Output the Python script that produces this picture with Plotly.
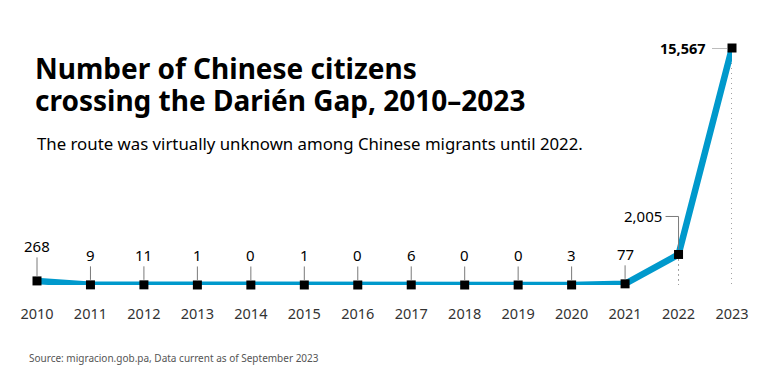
import plotly.graph_objects as go

years = [2010, 2011, 2012, 2013, 2014, 2015, 2016, 2017, 2018, 2019, 2020, 2021, 2022, 2023]
crossings = [268, 9, 11, 1, 0, 1, 0, 6, 0, 0, 3, 77, 2005, 15567]
tick_labels = [str(y) for y in years]

title_lines = ["Number of Chinese citizens", "crossing the Darién Gap, 2010–2023"]
subtitle_text = "The route was virtually unknown among Chinese migrants until 2022."
source_text = "Source: migracion.gob.pa, Data current as of September 2023"

FONT = "Noto Sans"
LINE_COLOR = "#0099cc"
LEADER = "#7a7a7a"

# page offset (body margin) compensation
OFF = 8
L, T = 37 - OFF, 48 - OFF
PW, PH = 695, 237


def px_x(px):
    return (px - 37) / PW


def px_y(py):
    return 1 - (py - 48) / PH


fig = go.Figure()
fig.add_trace(go.Scatter(
    x=years, y=crossings, mode="lines+markers",
    line=dict(color=LINE_COLOR, width=6.5),
    marker=dict(symbol="square", size=9, color="black"),
    cliponaxis=False, hoverinfo="skip",
))

annotations = []
shapes = []
for i, (yr, v) in enumerate(zip(years, crossings)):
    label = f"{v:,}"
    if yr <= 2021:
        ay = -35 if i == 0 else -30
        annotations.append(dict(
            x=yr, y=v, xref="x", yref="y", text=label, showarrow=True,
            arrowhead=0, arrowwidth=1, arrowcolor=LEADER, ax=0, ay=ay,
            standoff=5, font=dict(family=FONT, size=15, color="black"),
        ))
    elif yr == 2022:
        annotations.append(dict(
            x=yr, y=v, xref="x", yref="y", text=label, showarrow=False,
            xanchor="right", yanchor="middle", xshift=-15, yshift=38,
            font=dict(family=FONT, size=15, color="black"),
        ))
        shapes.append(dict(type="line", xref="x", yref="y", x0=yr, x1=yr,
                           ysizemode="pixel", yanchor=v, y0=5, y1=38,
                           line=dict(color=LEADER, width=1)))
        shapes.append(dict(type="line", xref="x", yref="y",
                           xsizemode="pixel", xanchor=yr, x0=-13, x1=0,
                           ysizemode="pixel", yanchor=v, y0=38, y1=38,
                           line=dict(color=LEADER, width=1)))
    else:
        annotations.append(dict(
            x=yr, y=v, xref="x", yref="y", text=f"<b>{label}</b>", showarrow=False,
            xanchor="right", yanchor="middle", xshift=-24,
            font=dict(family=FONT, size=14.5, color="black"),
        ))
        shapes.append(dict(type="line", xref="x", yref="y",
                           xsizemode="pixel", xanchor=yr, x0=-20, x1=-5,
                           y0=v, y1=v, line=dict(color=LEADER, width=1)))
    if yr >= 2022:
        shapes.append(dict(type="line", xref="x", yref="y", x0=yr, x1=yr,
                           y0=v, y1=-950,
                           line=dict(color="#444", width=1, dash="1px,4px"),
                           layer="below"))

for text, cy in zip(title_lines, [68.5, 99.5]):
    annotations.append(dict(
        xref="paper", yref="paper", x=px_x(33), y=px_y(cy),
        xanchor="left", yanchor="middle", text=f"<b>{text}</b>", showarrow=False,
        font=dict(family=FONT, size=28, color="black"),
    ))
annotations.append(dict(
    xref="paper", yref="paper", x=px_x(35), y=px_y(143),
    xanchor="left", yanchor="middle", text=subtitle_text, showarrow=False,
    font=dict(family=FONT, size=16.8, color="black"),
))
annotations.append(dict(
    xref="paper", yref="paper", x=px_x(27), y=px_y(358),
    xanchor="left", yanchor="middle", text=source_text, showarrow=False,
    font=dict(family=FONT, size=10, color="#555"),
))

fig.update_layout(
    width=768, height=381,
    margin=dict(l=L, r=768 - L - PW, t=T, b=381 - T - PH),
    paper_bgcolor="white", plot_bgcolor="white",
    showlegend=False,
    xaxis=dict(range=[years[0], years[-1]], tickmode="array", tickvals=years,
               ticktext=tick_labels, showgrid=False, zeroline=False,
               showline=False, ticks="", ticklabelstandoff=18,
               tickfont=dict(family=FONT, size=14.5, color="#333")),
    yaxis=dict(range=[0, max(crossings)], visible=False, showgrid=False,
               zeroline=False),
    annotations=annotations,
    shapes=shapes,
)

fig.write_html("out.html")
